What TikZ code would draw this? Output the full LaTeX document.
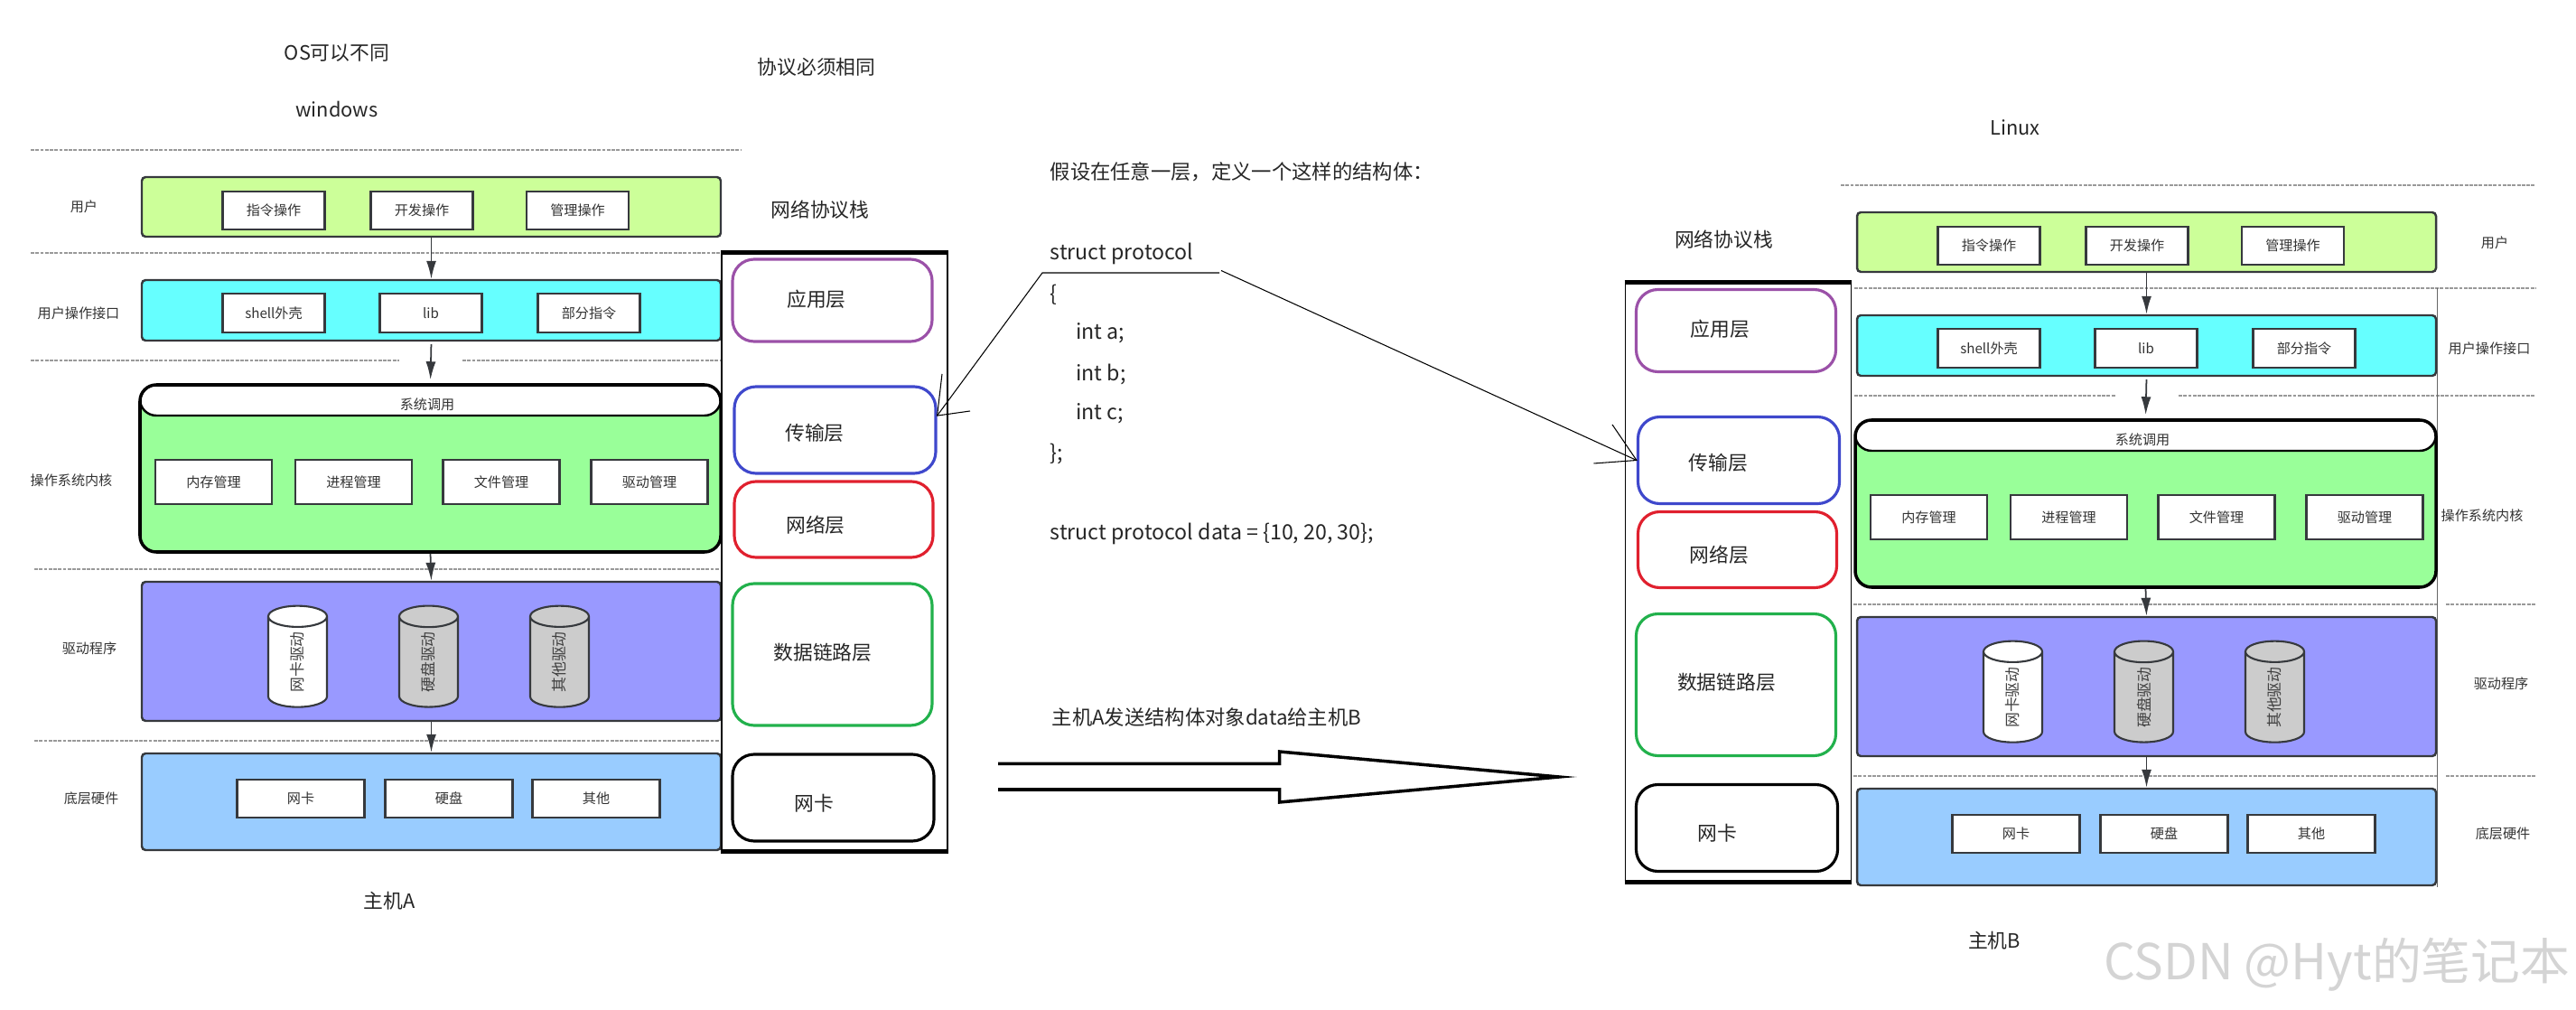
\documentclass[tikz,border=0pt]{standalone}
\usepackage{fontspec}
\setmainfont{Noto Sans CJK SC}
\usetikzlibrary{arrows.meta,shapes.geometric}
\definecolor{userfill}{HTML}{CCFF99}
\definecolor{clifill}{HTML}{66FFFF}
\definecolor{kernelfill}{HTML}{99FF99}
\definecolor{driverfill}{HTML}{9999FF}
\definecolor{hwfill}{HTML}{99CCFF}
\definecolor{boxline}{HTML}{36393D}
\definecolor{applayer}{HTML}{9B51A8}
\definecolor{tcplayer}{HTML}{3F48CC}
\definecolor{iplayer}{HTML}{E0202E}
\definecolor{linklayer}{HTML}{22B14C}
\tikzset{
  smalltext/.style={font=\fontsize{4.3pt}{5pt}\selectfont, text=black!80, inner sep=0pt},
  midtext/.style={font=\fontsize{6.35pt}{7pt}\selectfont, text=black!85, inner sep=0pt},
  codetext/.style={font=\fontsize{6.6pt}{7pt}\selectfont, text=black!85, inner sep=0pt},
  bigtext/.style={font=\fontsize{6.2pt}{7.5pt}\selectfont, text=black!85, inner sep=0pt},
  bandbox/.style={draw=boxline, line width=0.7pt, rounded corners=1.2pt, inner sep=0pt},
  innerbox/.style={draw=boxline, fill=white, line width=0.6pt, inner sep=0pt, smalltext},
  layerbox/.style={rounded corners=0.24cm, line width=0.9pt, inner sep=0pt},
  sepline/.style={black!40, line width=0.4pt, dash pattern=on 1.1pt off 0.4pt},
  flowarrow/.style={boxline, line width=0.5pt, -{Latex[length=0.2cm,width=0.11cm]}},
}
\begin{document}
\begin{tikzpicture}
  \useasboundingbox (0,0) rectangle (28.52,-11.18);
  % separators of host A
  \draw[sepline] (0.34,-1.66) -- (8.20,-1.66);
  \draw[sepline] (0.34,-2.80) -- (7.97,-2.80);
  \draw[sepline] (0.34,-3.99) -- (4.42,-3.99);
  \draw[sepline] (5.12,-3.99) -- (7.97,-3.99);
  \draw[sepline] (0.38,-6.30) -- (7.97,-6.30);
  \draw[sepline] (0.38,-8.20) -- (7.97,-8.20);
  % separators of host B
  \draw[sepline] (20.38,-2.05) -- (28.07,-2.05);
  \draw[sepline] (20.53,-3.19) -- (28.07,-3.19);
  \draw[sepline] (20.53,-4.38) -- (23.42,-4.38);
  \draw[sepline] (24.12,-4.38) -- (28.07,-4.38);
  \draw[sepline] (20.52,-6.69) -- (26.98,-6.69);
  \draw[sepline] (27.08,-6.69) -- (28.07,-6.69);
  \draw[sepline] (20.52,-8.59) -- (26.98,-8.59);
  \draw[sepline] (27.08,-8.59) -- (28.07,-8.59);
  \draw[black!60, line width=0.2pt] (26.98,-3.19) -- (26.98,-9.82);
  % the same host twice
  \foreach \host/\dx/\dy in {A/0/0,B/18.99/-0.39} {
    \begin{scope}[shift={(\dx,\dy)}]
      \foreach \n/\y/\hh/\col in {user/-2.29/0.66/userfill,cli/-3.435/0.67/clifill,
                                  driver/-7.21/1.54/driverfill,hw/-8.875/1.07/hwfill}
        \node[bandbox, fill=\col, minimum width=6.41cm, minimum height=\hh cm] (\n\host) at (4.775,\y) {};
      \node[draw=black, line width=1pt, rounded corners=0.18cm, fill=kernelfill, inner sep=0pt,
            minimum width=6.43cm, minimum height=1.85cm,
            path picture={\draw[fill=white, line width=0.7pt] (path picture bounding box.north west) rectangle ++(6.43,-0.34);}]
            (kernel\host) at (4.765,-5.185) {};
      \node[smalltext] (syscall\host) at (4.73,-4.48) {系统调用};
      \foreach \n/\x/\y/\w/\hh/\lbl in {cmd/3.03/-2.33/1.13/0.42/指令操作,dev/4.67/-2.33/1.13/0.42/开发操作,mgr/6.395/-2.33/1.13/0.42/管理操作,
                                        shell/3.03/-3.465/1.13/0.43/shell外壳,lib/4.77/-3.465/1.13/0.43/lib,part/6.52/-3.465/1.13/0.43/部分指令,
                                        mem/2.365/-5.335/1.29/0.49/内存管理,proc/3.915/-5.335/1.29/0.49/进程管理,file/5.55/-5.335/1.29/0.49/文件管理,drv/7.19/-5.335/1.29/0.49/驱动管理,
                                        card/3.33/-8.84/1.41/0.42/网卡,disk/4.97/-8.84/1.41/0.42/硬盘,other/6.60/-8.84/1.41/0.42/其他}
        \node[innerbox, minimum width=\w cm, minimum height=\hh cm] (\n\host) at (\x,\y) {\lbl};
      % rotate turns shape and text together
      \foreach \n/\x/\col/\lbl in {nicdrv/3.295/white/网卡驱动,diskdrv/4.745/black!20/硬盘驱动,otherdrv/6.195/black!20/其他驱动}
        \node[cylinder, rotate=90, aspect=1.5, draw=boxline, line width=0.6pt, fill=\col, inner sep=0pt,
              minimum width=0.65cm, minimum height=1.12cm, font=\fontsize{4.8pt}{5pt}\selectfont, text=black!75]
              (\n\host) at (\x,-7.33) {\lbl};
      \draw[flowarrow] (user\host.south) -- (cli\host.north);
      \draw[flowarrow, shorten <=0.03cm, shorten >=0.04cm] (cli\host.south) -- (kernel\host.north);
      \draw[flowarrow] (kernel\host.south) -- (driver\host.north);
      \draw[flowarrow] (driver\host.south) -- (hw\host.north);
    \end{scope}
  }
  % the protocol stacks
  \foreach \host/\dx/\dy in {A/0/0,B/10.005/-0.335} {
    \begin{scope}[shift={(\dx,\dy)}]
      \node[bigtext] (stacktitle\host) at (9.08,-2.32) {网络协议栈};
      \node[draw, line width=0.5pt, minimum width=2.5cm, minimum height=6.62cm, inner sep=0pt] (stack\host) at (9.24,-6.11) {};
      \draw[line width=1.4pt] (stack\host.north west) -- (stack\host.north east);
      \draw[line width=1.4pt] (stack\host.south west) -- (stack\host.south east);
      \foreach \n/\x/\y/\w/\hh/\col/\lx/\ly/\lbl in {app/9.215/-3.325/2.21/0.91/applayer/9.04/-3.31/应用层,
                                                     tcp/9.245/-4.76/2.23/0.96/tcplayer/9.02/-4.79/传输层,
                                                     ip/9.23/-5.75/2.20/0.84/iplayer/9.03/-5.81/网络层,
                                                     link/9.215/-7.245/2.21/1.57/linklayer/9.11/-7.22/数据链路层,
                                                     phy/9.225/-8.83/2.23/0.96/black/9.01/-8.89/网卡} {
        \node[layerbox, draw=\col, minimum width=\w cm, minimum height=\hh cm] (\n\host) at (\x,\y) {};
        \node[bigtext] (\n\host text) at (\lx,\ly) {\lbl};
      }
    \end{scope}
  }
  % side labels
  \foreach \n/\x/\y/\lbl in {userA/0.93/-2.29/用户,cliA/0.87/-3.47/用户操作接口,kernelA/0.79/-5.32/操作系统内核,driverA/0.99/-7.18/驱动程序,hwA/1.01/-8.84/底层硬件,
                             userB/27.62/-2.69/用户,cliB/27.56/-3.86/用户操作接口,kernelB/27.48/-5.71/操作系统内核,driverB/27.69/-7.57/驱动程序,hwB/27.71/-9.23/底层硬件}
    \node[smalltext] (side\n) at (\x,\y) {\lbl};
  \node[bigtext] (osnote) at (3.73,-0.59) {OS可以不同};
  \node[bigtext] (winname) at (3.73,-1.21) {windows};
  \node[bigtext] (linuxname) at (22.31,-1.41) {Linux};
  \node[bigtext] (samenote) at (9.04,-0.74) {协议必须相同};
  \node[bigtext] (hostnameA) at (4.31,-9.97) {主机A};
  \node[bigtext] (hostnameB) at (22.08,-10.41) {主机B};
  % the struct in the middle
  \node[midtext, anchor=west] (assume) at (11.62,-1.90) {假设在任意一层，定义一个这样的结构体：};
  \node[codetext, anchor=west] (structname) at (11.62,-2.81) {struct protocol};
  \node[codetext, anchor=west] (openbrace) at (11.62,-3.26) {\{};
  \node[codetext, anchor=west] (fielda) at (11.905,-3.69) {int a;};
  \node[codetext, anchor=west] (fieldb) at (11.905,-4.14) {int b;};
  \node[codetext, anchor=west] (fieldc) at (11.905,-4.58) {int c;};
  \node[codetext, anchor=west] (closebrace) at (11.62,-5.03) {\};};
  \node[codetext, anchor=west] (dataline) at (11.62,-5.91) {struct protocol data = \{10, 20, 30\};};
  \node[midtext, anchor=west] (sendnote) at (11.64,-7.94) {主机A发送结构体对象data给主机B};
  % lines from the struct name to both transport layers
  \coordinate (underL) at (11.54,-3.02);
  \coordinate (underR) at (13.50,-3.02);
  \coordinate (diagR) at (13.52,-2.995);
  \coordinate (barbA) at (10.43,-4.14);
  \coordinate (barbB) at (10.74,-4.55);
  \coordinate (barbC) at (17.85,-4.70);
  \coordinate (barbD) at (17.645,-5.13);
  \draw[line width=0.3pt] (underR) -- (underL) -- (tcpA.8);
  \draw[line width=0.3pt] (barbA) -- (tcpA.8) -- (barbB);
  \draw[line width=0.3pt] (diagR) -- (tcpB.west);
  \draw[line width=0.3pt] (barbC) -- (tcpB.west) -- (barbD);
  % open wide arrow
  \draw[line width=1pt, miter limit=20] (11.05,-8.454) -- (14.165,-8.454) -- (14.165,-8.32) -- (17.26,-8.60)
        -- (14.165,-8.88) -- (14.165,-8.74) -- (11.05,-8.74);
  \node[anchor=east, inner sep=0pt, text=black!17, font=\fontsize{15.6pt}{18pt}\selectfont] (watermark) at (28.46,-10.68) {CSDN @Hyt的笔记本};
\end{tikzpicture}
\end{document}
